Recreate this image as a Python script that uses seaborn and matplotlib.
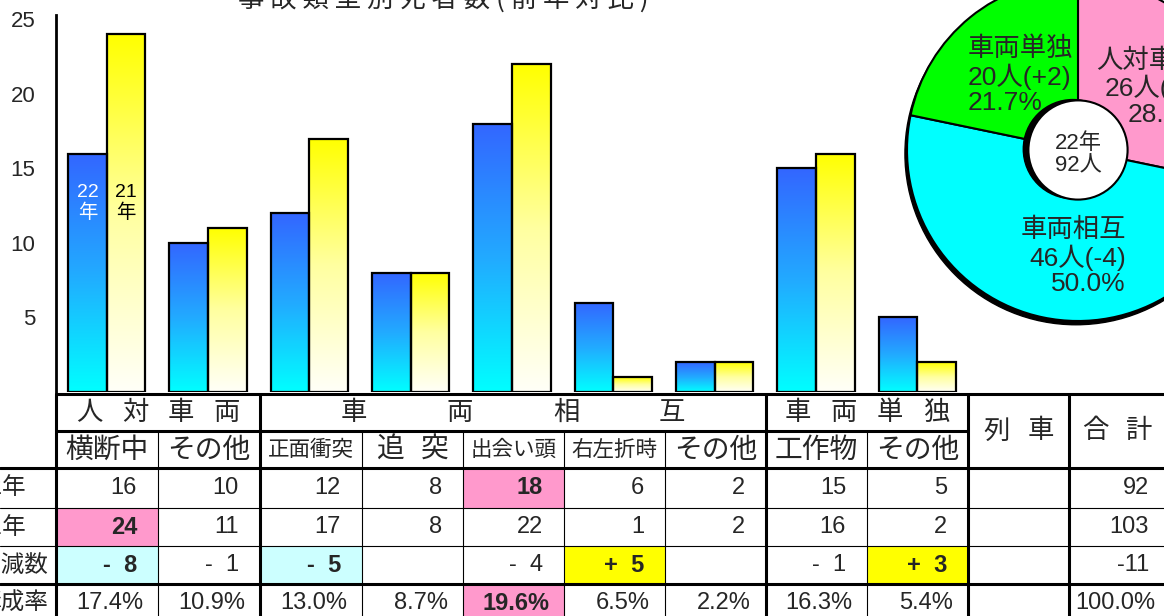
import numpy as np
import pandas as pd
import matplotlib
matplotlib.use('Agg')
import matplotlib.pyplot as plt
from matplotlib.colors import LinearSegmentedColormap
from matplotlib.patches import Rectangle, Circle
import seaborn as sns
import warnings
warnings.filterwarnings('ignore')

sns.set_style("white")
NUM = ['Liberation Sans Narrow', 'Liberation Sans', 'Noto Sans CJK JP']
JP = ['Noto Sans CJK JP', 'DejaVu Sans']
plt.rcParams['font.family'] = NUM

# ===== DATA =====
groups = ['人対車両', '車両相互', '車両単独']
group_span = [2, 5, 2]
types = ['横断中', 'その他', '正面衝突', '追突', '出会い頭', '右左折時', 'その他', '工作物', 'その他']
deaths_22 = [16, 10, 12, 8, 18, 6, 2, 15, 5]
deaths_21 = [24, 11, 17, 8, 22, 1, 2, 16, 2]
years = ['22年', '21年']
row_labels = ['22年', '21年', '増減数', '構成率']
title = '事故類型別死者数(前年対比)'

# ===== LAYOUT (pixels) =====
W, H = 1164, 616
col_x = [56, 158, 260, 362, 463, 564, 665, 766, 867, 968, 1069, 1170]
row_y = [394, 431, 468, 508, 546, 584, 622]
PINK, LCYAN, YEL = '#FF99CC', '#CCFFFF', '#FFFF00'
hl_22 = {4: PINK}
hl_21 = {0: PINK}
hl_diff = {0: LCYAN, 2: LCYAN, 5: YEL, 8: YEL}
hl_ratio = {4: PINK}

fig = plt.figure(figsize=(W / 100, H / 100), dpi=100)

# ===== BAR CHART =====
ax = fig.add_axes([col_x[0] / W, (H - 392) / H, (col_x[9] - col_x[0]) / W, (392 - 15) / H])
keys = [f'{i}:{t}' for i, t in enumerate(types)]
df = pd.DataFrame({
    'type': keys * 2,
    'year': [years[0]] * len(keys) + [years[1]] * len(keys),
    'deaths': deaths_22 + deaths_21,
})
sns.barplot(data=df, x='type', y='deaths', hue='year', order=keys, hue_order=years,
            palette={years[0]: '#3366FF', years[1]: '#FFFF00'}, saturation=1,
            width=0.76, edgecolor='black', linewidth=1.6, legend=False, ax=ax)

blue_cmap = LinearSegmentedColormap.from_list('b', ['#00FFFF', '#22AAFF', '#3366FF'])
yel_cmap = LinearSegmentedColormap.from_list('y', ['#FFFFF8', '#FFFFA0', '#FFFF00'])
grad = np.linspace(0, 1, 256).reshape(-1, 1)
for p in list(ax.patches):
    x0, w, h = p.get_x(), p.get_width(), p.get_height()
    cmap = blue_cmap if p.get_facecolor()[0] < 0.5 else yel_cmap
    im = ax.imshow(grad, extent=[x0, x0 + w, 0, h], origin='lower', aspect='auto',
                   cmap=cmap, zorder=1.5)
    im.set_clip_path(p)
    p.set_facecolor('none')
    p.set_zorder(2)

ax.set_xlim(-0.5, len(keys) - 0.5)
ax.set_ylim(0, 25.3)
ax.set_yticks([5, 10, 15, 20, 25])
ax.set_xticks([])
ax.set_xlabel('')
ax.set_ylabel('')
ax.tick_params(axis='y', length=0, pad=15, labelsize=16)
for s in ['top', 'right', 'bottom']:
    ax.spines[s].set_visible(False)
ax.spines['left'].set_linewidth(2)
ax.spines['left'].set_color('black')
ax.patch.set_alpha(0)
ax.text(-0.19, 12.7, '22\n年', color='white', ha='center', va='center', fontsize=14,
        linespacing=1.15, zorder=5)
ax.text(0.19, 12.7, '21\n年', color='black', ha='center', va='center', fontsize=14,
        linespacing=1.15, zorder=5)

# ===== PIE =====
cx, cy, R = 1078, 150, 171
box = 2 * R * 1.1
axp = fig.add_axes([(cx - box / 2) / W, (H - cy - box / 2) / H, box / W, box / H])
starts = np.cumsum([0] + group_span)
pie_22 = [sum(deaths_22[a:b]) for a, b in zip(starts[:-1], starts[1:])]
pie_21 = [sum(deaths_21[a:b]) for a, b in zip(starts[:-1], starts[1:])]
axp.add_patch(Circle((-0.012, -0.022), 1.0, color='black', zorder=0))
axp.pie(pie_22, colors=[PINK, '#00FFFF', '#00FF00'], startangle=90, counterclock=False,
        radius=1, wedgeprops=dict(edgecolor='black', linewidth=1.5))
axp.add_patch(Circle((-0.03, 0.005), 0.29, color='black', zorder=5))
axp.add_patch(Circle((0, 0), 0.29, fc='white', ec='black', lw=1.5, zorder=6))
axp.set_xlim(-1.1, 1.1)
axp.set_ylim(-1.1, 1.1)
axp.axis('off')

# ===== TABLE / TEXT OVERLAY =====
tb = fig.add_axes([0, 0, 1, 1])
tb.set_xlim(0, W)
tb.set_ylim(H, 0)
tb.axis('off')
tb.patch.set_alpha(0)

total_22, total_21 = sum(deaths_22), sum(deaths_21)

# pie labels
pie_pos = [(1202, 88, 'right'), (1126, 257, 'right'), (968, 76, 'left')]
for g, v, v0, (px, py, ha) in zip(groups, pie_22, pie_21, pie_pos):
    tb.text(px, py, f'{g}\n{v}人({v - v0:+d})\n{v / total_22 * 100:.1f}%', ha=ha, va='center',
            fontsize=19, linespacing=1.1, family=NUM, zorder=10)
tb.text(cx, 155, f'{years[0]}\n{total_22}人', ha='center', va='center', fontsize=16,
        linespacing=1.1, family=NUM, zorder=10)

tb.text(443, -1, ' '.join(title), ha='center', va='center', fontsize=19, style='italic',
        family=JP)


def spaced(text, xc, y, step, size):
    n = len(text)
    for i, ch in enumerate(text):
        tb.text(xc + (i - (n - 1) / 2) * step, y, ch, ha='center', va='center',
                fontsize=size, family=JP)


# highlight cells
for r, hl in enumerate([hl_22, hl_21, hl_diff, hl_ratio]):
    for c, color in hl.items():
        tb.add_patch(Rectangle((col_x[c], row_y[r + 2]), col_x[c + 1] - col_x[c],
                               row_y[r + 3] - row_y[r + 2], fc=color, ec='none', zorder=1))

# grid lines
THICK, THIN = 2.2, 0.8
tb.plot([col_x[0], W], [row_y[0]] * 2, color='black', lw=THICK, zorder=3)
tb.plot([col_x[0], col_x[9]], [row_y[1]] * 2, color='black', lw=THICK, zorder=3)
for y, lw in [(row_y[2], THICK), (row_y[3], THIN), (row_y[4], THIN), (row_y[5], THICK)]:
    tb.plot([0, W], [y, y], color='black', lw=lw, zorder=3)
for i in [0, 2, 7, 9, 10]:
    tb.plot([col_x[i]] * 2, [row_y[0], H], color='black', lw=THICK, zorder=3)
for i in [1, 3, 4, 5, 6, 8]:
    tb.plot([col_x[i]] * 2, [row_y[1], H], color='black', lw=THIN, zorder=3)

# headers
y1 = (row_y[0] + row_y[1]) / 2
y2 = (row_y[1] + row_y[2]) / 2
spaced(groups[0], (col_x[0] + col_x[2]) / 2, y1, 46, 19)
spaced(groups[1], (col_x[2] + col_x[7]) / 2, y1, 106, 19)
spaced(groups[2], (col_x[7] + col_x[9]) / 2, y1, 46, 19)
spaced('列車', (col_x[9] + col_x[10]) / 2, (row_y[0] + row_y[2]) / 2, 44, 19)
spaced('合計', (col_x[10] + col_x[11]) / 2 - 2, (row_y[0] + row_y[2]) / 2, 44, 19)
for i, t in enumerate(types):
    xc = (col_x[i] + col_x[i + 1]) / 2
    if len(t) == 2:
        spaced(t, xc, y2, 44, 20)
    elif len(t) == 4:
        tb.text(xc, y2, t, ha='center', va='center', fontsize=15.5, family=JP)
    else:
        tb.text(xc, y2, t, ha='center', va='center', fontsize=20, family=JP)

# row labels
ry = [(row_y[k] + row_y[k + 1]) / 2 for k in range(2, 6)]
for lab, y, xr in zip(row_labels, ry, [26, 26, 48, 48]):
    tb.text(xr, y, lab, ha='right', va='center', fontsize=17, family=JP)


def fmt_diff(d, sep=' '):
    if d == 0:
        return ''
    return ('- ' if d < 0 else '+ ') + sep + str(abs(d))


for i in range(len(types)):
    xr = col_x[i + 1] - 21
    d = deaths_22[i] - deaths_21[i]
    cells = [str(deaths_22[i]), str(deaths_21[i]), fmt_diff(d),
             f'{deaths_22[i] / total_22 * 100:.1f}%']
    for r, (txt, hl) in enumerate(zip(cells, [hl_22, hl_21, hl_diff, hl_ratio])):
        bold = 'bold' if i in hl else 'normal'
        x = xr + 6 if r == 3 else xr
        tb.text(x, ry[r], txt, ha='right', va='center', fontsize=17, fontweight=bold,
                family=NUM, zorder=4)

tot_cells = [str(total_22), str(total_21), f'{total_22 - total_21}', '100.0%']
for r, txt in enumerate(tot_cells):
    x = col_x[11] - 21 + (6 if r == 3 else 0)
    tb.text(x, ry[r], txt, ha='right', va='center', fontsize=17, family=NUM, zorder=4)

fig.savefig('out.png', dpi=100)
